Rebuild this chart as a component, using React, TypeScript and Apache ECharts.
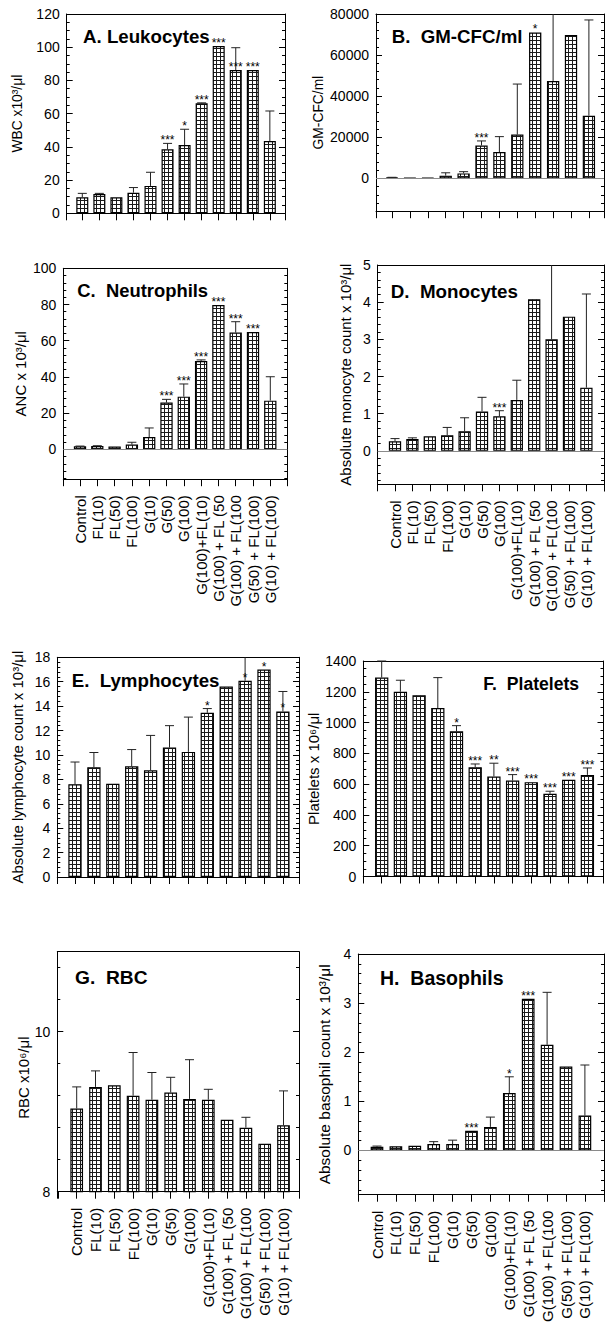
import React, { useEffect, useRef } from "react";
import * as echarts from "echarts";

const FONT = "'Liberation Sans', Arial, Helvetica, sans-serif";

const categories = [
  "Control", "FL(10)", "FL(50)", "FL(100)", "G(10)", "G(50)", "G(100)",
  "G(100)+FL(10)", "G(100) + FL (50", "G(100) + FL(100", "G(50) + FL(100)", "G(10) + FL(100)",
];

// A. Leukocytes
const wbcMean = [9.6, 11.6, 9.6, 12.4, 16.5, 38.5, 41.1, 66.2, 100.7, 86.3, 86.3, 43.5];
const wbcErr = [2.4, 0.4, 0, 3.1, 8.2, 3.6, 9.5, 0.3, 0, 13.4, 0, 18.1];
const wbcStars = ["", "", "", "", "", "***", "*", "***", "***", "***", "***", ""];

// B. GM-CFC/ml
const gmMean = [400, 200, 300, 1300, 2400, 16000, 12800, 21300, 71000, 47400, 69800, 30500];
const gmErr = [100, 0, 0, 1400, 850, 2200, 7500, 24600, 0, 40000, 0, 46600];
const gmStars = ["", "", "", "", "", "***", "", "", "*", "", "", ""];

// C. Neutrophils
const ancMean = [1.7, 1.8, 1.5, 2.6, 6.8, 25.8, 29.1, 48.8, 79.7, 64.5, 64.8, 26.9];
const ancErr = [0.1, 0.2, 0, 1.3, 5.0, 1.8, 7.0, 0.6, 0, 6.0, 0, 13.2];
const ancStars = ["", "", "", "", "", "***", "***", "***", "***", "***", "***", ""];

// D. Monocytes
const monoMean = [0.26, 0.32, 0.39, 0.42, 0.53, 1.06, 0.93, 1.37, 4.08, 3.0, 3.61, 1.7];
const monoErr = [0.07, 0.03, 0, 0.21, 0.36, 0.38, 0.15, 0.53, 0, 2.3, 0, 2.52];
const monoStars = ["", "", "", "", "", "", "***", "", "", "", "", ""];

// E. Lymphocytes
const lymMean = [7.6, 9.0, 7.64, 9.07, 8.74, 10.6, 10.25, 13.45, 15.6, 16.08, 17.0, 13.56];
const lymErr = [1.82, 1.2, 0, 1.37, 2.86, 1.8, 2.85, 0.35, 0, 2.5, 0, 1.64];
const lymStars = ["", "", "", "", "", "", "", "*", "", "*", "*", "*"];

// F. Platelets
const pltMean = [1292, 1200, 1178, 1094, 943, 710, 650, 623, 613, 537, 628, 660];
const pltErr = [108, 75, 0, 198, 37, 21, 86, 39, 0, 17, 0, 45];
const pltStars = ["", "", "", "", "*", "***", "**", "***", "***", "***", "***", "***"];

// G. RBC
const rbcMean = [9.04, 9.31, 9.33, 9.2, 9.15, 9.24, 9.16, 9.15, 8.9, 8.8, 8.6, 8.83];
const rbcErr = [0.27, 0.2, 0, 0.54, 0.34, 0.19, 0.49, 0.13, 0, 0.13, 0, 0.43];
const rbcStars = ["", "", "", "", "", "", "", "", "", "", "", ""];

// H. Basophils
const basoMean = [0.074, 0.087, 0.094, 0.13, 0.13, 0.4, 0.48, 1.17, 3.09, 2.15, 1.71, 0.71];
const basoErr = [0.016, 0, 0, 0.05, 0.08, 0, 0.2, 0.33, 0, 1.07, 0, 1.03];
const basoStars = ["", "", "", "", "", "***", "", "*", "***", "", "", ""];

type Panel = {
  title: string; name: string; mean: number[]; err: number[]; stars: string[];
  left: number; right: number; top: number; bottom: number; first: number; step: number;
  yMin: number; yMax: number; yInt: number; minor: number; barW: number;
  labels: boolean; zeroLine: boolean; nameGap: number; nameSize: number; namePad: number[];
  titleX: number; titleY: number; titleSize: number;
};

const panels: Panel[] = [
  { title: "A. Leukocytes", name: "WBC x10³/μl", mean: wbcMean, err: wbcErr, stars: wbcStars,
    left: 66.7, right: 285, top: 14, bottom: 213.3, first: 82.3, step: 17.05,
    yMin: 0, yMax: 120, yInt: 20, minor: 4, barW: 12, labels: false, zeroLine: false,
    nameGap: 42, nameSize: 13.8, namePad: [0, 0, 0, 0], titleX: 83, titleY: 27, titleSize: 18.7 },
  { title: "B.  GM-CFC/ml", name: "GM-CFC/ml", mean: gmMean, err: gmErr, stars: gmStars,
    left: 376, right: 604, top: 14, bottom: 211.2, first: 392, step: 17.9,
    yMin: -16000, yMax: 80000, yInt: 20000, minor: 5, barW: 12.3, labels: false, zeroLine: true,
    nameGap: 51, nameSize: 13.8, namePad: [0, 0, 0, 0], titleX: 391.7, titleY: 27, titleSize: 18.7 },
  { title: "C.  Neutrophils", name: "ANC x 10³/μl", mean: ancMean, err: ancErr, stars: ancStars,
    left: 63.3, right: 287.3, top: 268.3, bottom: 479.2, first: 80, step: 17.3,
    yMin: -16.5, yMax: 100, yInt: 20, minor: 5, barW: 12.3, labels: true, zeroLine: true,
    nameGap: 35, nameSize: 15, namePad: [0, 0, 0, 0], titleX: 77.3, titleY: 281, titleSize: 18.4 },
  { title: "D.  Monocytes", name: "Absolute monocyte count x 10³/μl", mean: monoMean, err: monoErr, stars: monoStars,
    left: 377.7, right: 604, top: 265, bottom: 484.3, first: 395, step: 17.4,
    yMin: -0.9, yMax: 5, yInt: 1, minor: 5, barW: 12.3, labels: true, zeroLine: true,
    nameGap: 24.5, nameSize: 15, namePad: [0, 0, 0, 0], titleX: 390.7, titleY: 281.5, titleSize: 18.8 },
  { title: "E.  Lymphocytes", name: "Absolute lymphocyte count x 10³/μl", mean: lymMean, err: lymErr, stars: lymStars,
    left: 57.3, right: 299, top: 657.3, bottom: 877, first: 75, step: 18.9,
    yMin: 0, yMax: 18, yInt: 2, minor: 5, barW: 13.3, labels: false, zeroLine: false,
    nameGap: 32, nameSize: 15, namePad: [0, 0, 0, 0], titleX: 71.7, titleY: 670.5, titleSize: 18.7 },
  { title: "F.  Platelets", name: "Platelets x 10⁶/μl", mean: pltMean, err: pltErr, stars: pltStars,
    left: 363.3, right: 603.5, top: 661, bottom: 876.5, first: 381.7, step: 18.7,
    yMin: 0, yMax: 1400, yInt: 200, minor: 4, barW: 13.3, labels: false, zeroLine: false,
    nameGap: 37, nameSize: 15, namePad: [0, 0, 0, 0], titleX: 483.3, titleY: 674.5, titleSize: 17.6 },
  { title: "G.  RBC", name: "RBC x10⁶/μl", mean: rbcMean, err: rbcErr, stars: rbcStars,
    left: 57.3, right: 299, top: 951.7, bottom: 1191.7, first: 76.7, step: 18.8,
    yMin: 8, yMax: 11, yInt: 2, minor: 5, barW: 12.7, labels: true, zeroLine: false,
    nameGap: 16, nameSize: 15, namePad: [0, 12, 0, 0], titleX: 75, titleY: 967.5, titleSize: 19.2 },
  { title: "H.  Basophils", name: "Absolute basophil count x 10³/μl", mean: basoMean, err: basoErr, stars: basoStars,
    left: 358.3, right: 604, top: 954, bottom: 1196.7, first: 377, step: 18.9,
    yMin: -0.9, yMax: 4, yInt: 1, minor: 5, barW: 12.7, labels: true, zeroLine: true,
    nameGap: 26, nameSize: 15.5, namePad: [0, 0, 0, 0], titleX: 380, titleY: 967.5, titleSize: 19.5 },
];

function makeHatch(): HTMLCanvasElement {
  const c = document.createElement("canvas");
  c.width = 4;
  c.height = 4;
  const ctx = c.getContext("2d")!;
  ctx.fillStyle = "#ffffff";
  ctx.fillRect(0, 0, 4, 4);
  ctx.fillStyle = "#1a1a1a";
  ctx.fillRect(0, 0, 4, 1);
  ctx.fillRect(0, 0, 1, 4);
  return c;
}

function buildOption() {
  const hatch = makeHatch();
  const pattern: any = { image: hatch, repeat: "repeat", imageWidth: 4, imageHeight: 4 };
  const line = { color: "#000", width: 1 };
  const grid: any[] = [];
  const xAxis: any[] = [];
  const yAxis: any[] = [];
  const series: any[] = [];
  const title: any[] = [];

  panels.forEach((p, gi) => {
    const xMin = (p.left - p.first) / p.step;
    const xMax = (p.right - p.first) / p.step;
    grid.push({ left: p.left, top: p.top, width: p.right - p.left, height: p.bottom - p.top });
    xAxis.push({
      gridIndex: gi, type: "value", position: "bottom", min: xMin, max: xMax,
      minInterval: 1, maxInterval: 1,
      axisLine: { show: true, onZero: false, lineStyle: line },
      axisTick: { show: true, inside: false, length: 7, lineStyle: line },
      axisLabel: {
        show: p.labels, rotate: 90, margin: 16, fontSize: 15, fontFamily: FONT, color: "#000",
        formatter: (v: number) => {
          const r = Math.round(v);
          return Math.abs(v - r) < 1e-6 && r >= 0 && r < categories.length ? categories[r] : "";
        },
      },
      splitLine: { show: false },
    });
    xAxis.push({
      gridIndex: gi, type: "value", position: "top", min: 0, max: 1,
      axisLine: { show: true, onZero: false, lineStyle: line },
      axisTick: { show: false }, axisLabel: { show: false }, splitLine: { show: false },
    });
    const yCommon = {
      gridIndex: gi, type: "value", min: p.yMin, max: p.yMax,
      minInterval: p.yInt, maxInterval: p.yInt,
      axisLine: { show: true, onZero: false, lineStyle: line },
      axisTick: { show: true, inside: true, length: 6, lineStyle: line },
      minorTick: { show: true, splitNumber: p.minor, length: 3, lineStyle: { color: "#000", width: 1 } },
      splitLine: { show: false }, minorSplitLine: { show: false },
    };
    yAxis.push({
      ...yCommon, position: "left",
      name: p.name, nameLocation: "middle", nameGap: p.nameGap,
      nameTextStyle: { fontSize: p.nameSize, fontFamily: FONT, color: "#000", padding: p.namePad },
      axisLabel: {
        show: true, fontSize: 14, fontFamily: FONT, color: "#000", margin: 7,
        showMinLabel: p.yMin % p.yInt === 0, showMaxLabel: p.yMax % p.yInt === 0,
        formatter: (v: number) => String(v),
      },
    });
    yAxis.push({ ...yCommon, position: "right", axisLabel: { show: false } });

    series.push({
      type: "bar", xAxisIndex: 2 * gi, yAxisIndex: 2 * gi,
      data: p.mean.map((m, i) => [i, m]),
      barWidth: p.barW,
      itemStyle: { color: pattern, borderColor: "#000", borderWidth: 1.2 },
      markLine: p.zeroLine
        ? {
            silent: true, symbol: ["none", "none"], label: { show: false },
            lineStyle: { color: "#8a8a8a", width: 1, type: "solid" },
            data: [{ yAxis: 0 }],
          }
        : undefined,
    });

    const range = p.yMax - p.yMin;
    series.push({
      type: "custom", xAxisIndex: 2 * gi, yAxisIndex: 2 * gi,
      data: p.mean.map((m, i) => [i, m, p.err[i]]),
      encode: { x: 0, y: 1 },
      z: 5,
      renderItem: (params: any, api: any) => {
        const i = api.value(0);
        const m = api.value(1);
        const e = api.value(2);
        const star = p.stars[params.dataIndex];
        const children: any[] = [];
        const base = api.coord([i, m]);
        const stroke = { stroke: "#222", lineWidth: 1 };
        if (e > 0) {
          const tv = Math.min(m + e, p.yMax);
          const top = api.coord([i, tv]);
          children.push({ type: "line", shape: { x1: base[0], y1: base[1], x2: base[0], y2: top[1] }, style: stroke });
          if (m + e <= p.yMax) {
            children.push({ type: "line", shape: { x1: base[0] - 4.5, y1: top[1], x2: base[0] + 4.5, y2: top[1] }, style: stroke });
          }
        }
        if (star) {
          const anchor = e / range < 0.085 ? m + e : m;
          const a = api.coord([i, anchor]);
          children.push({
            type: "text",
            style: { text: star, x: a[0], y: a[1] - 3, align: "center", verticalAlign: "middle", fontSize: 12, fontFamily: FONT, fill: "#000" },
          });
        }
        return { type: "group", children };
      },
    });

    title.push({
      text: p.title, left: p.titleX, top: p.titleY, padding: 0,
      textStyle: { fontSize: p.titleSize, fontWeight: "bold", fontFamily: FONT, color: "#000" },
    });
  });

  return { animation: false, backgroundColor: "#fff", title, grid, xAxis, yAxis, series };
}

export default function App() {
  const ref = useRef<HTMLDivElement>(null);
  useEffect(() => {
    if (!ref.current) return;
    const chart = echarts.init(ref.current, null, { renderer: "svg" });
    chart.setOption(buildOption() as any);
    return () => chart.dispose();
  }, []);
  return (
    <div
      ref={ref}
      style={{ position: "absolute", left: 0, top: 0, width: 605, height: 1325, background: "#fff" }}
    />
  );
}
